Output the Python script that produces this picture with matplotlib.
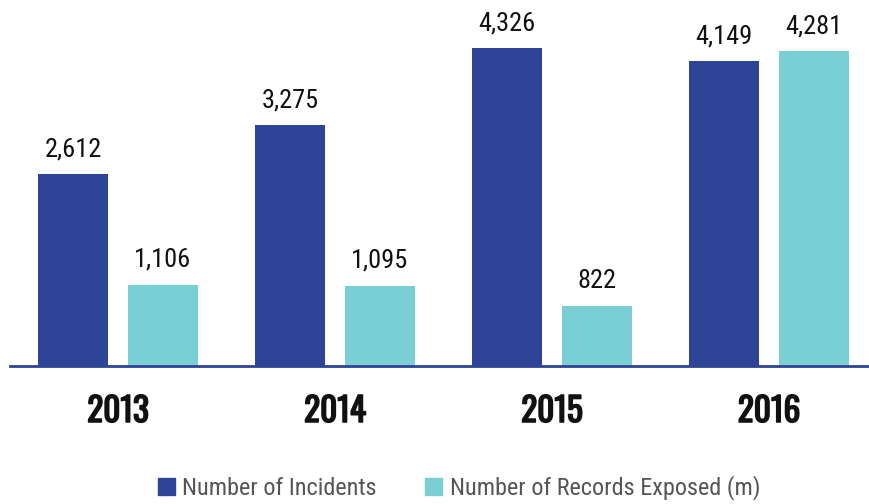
import matplotlib.pyplot as plt
import matplotlib.patheffects as pe
from matplotlib.patches import Patch
import numpy as np

years = ['2013', '2014', '2015', '2016']
incidents = [2612, 3275, 4326, 4149]
records = [1106, 1095, 822, 4281]
series_names = ['Number of Incidents', 'Number of Records Exposed (m)']

DARK = '#2E4497'
TEAL = '#7ACFD4'
FONT = ['Roboto Condensed', 'DejaVu Sans']
YEAR_FONT = ['Oswald', 'Roboto Condensed', 'DejaVu Sans']

PX = 0.0735  # pixels per unit on the y axis

fig = plt.figure(figsize=(8.69, 5.04), dpi=100)
# axes placed in pixels: left 10, right 869, baseline at y=366 from top
ax = fig.add_axes([10 / 869, 138 / 504, 859 / 869, 366 / 504])

x = np.arange(len(years))
w = 70 / 217
off = 45 / 217
ax.bar(x - off, incidents, w, color=DARK)
ax.bar(x + off, records, w, color=TEAL)

for xs, vals in ((x - off, incidents), (x + off, records)):
    for xi, v in zip(xs, vals):
        ax.text(xi, v + 18 / PX, f'{v:,}', ha='center', va='baseline', fontsize=19,
                family=FONT, color='#111111')

# Oswald only has the regular weight here, so thicken it with a thin stroke
for xi, y in zip(x, years):
    ax.text(xi, -56 / PX, y, ha='center', va='baseline', fontsize=24,
            family=YEAR_FONT, color='#111111',
            path_effects=[pe.withStroke(linewidth=1.1, foreground='#111111')])

ax.set_xlim((10 - 118) / 217, (869 - 118) / 217)
ax.set_ylim(0, 366 / PX)
ax.axhline(0, color=DARK, lw=2, clip_on=False)
for s in ax.spines.values():
    s.set_visible(False)
ax.set_xticks([])
ax.set_yticks([])

handles = [Patch(color=DARK), Patch(color=TEAL)]
leg = fig.legend(handles, series_names, loc='center', bbox_to_anchor=(459 / 869, 16 / 504),
                 ncol=2, frameon=False, handlelength=0.7, handleheight=0.7,
                 handletextpad=0.3, columnspacing=2.0, borderpad=0,
                 prop={'family': FONT, 'size': 17.5})
for t in leg.get_texts():
    t.set_color('#555555')

fig.savefig('out.png', dpi=100)
